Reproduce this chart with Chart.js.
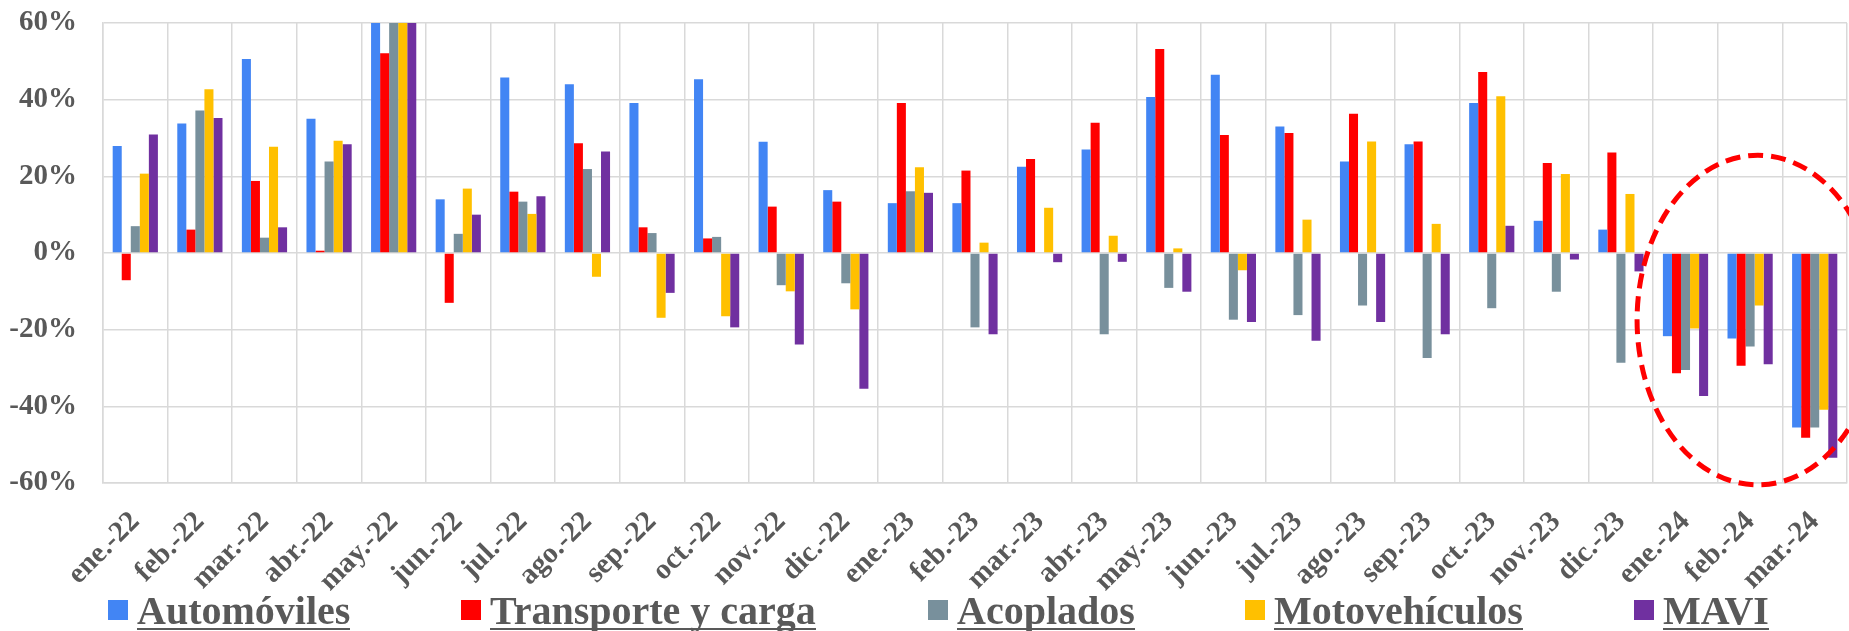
<!DOCTYPE html>
<html>
<head>
<meta charset="utf-8">
<script src="https://cdn.jsdelivr.net/npm/chart.js@4.4.1/dist/chart.umd.min.js"></script>
<style>
  html, body { margin: 0; padding: 0; background: #fff; }
  #wrap { position: relative; width: 1849px; height: 631px; overflow: hidden; }
  #chart { display: block; }
  #legend .item { position: absolute; top: 0; height: 631px; white-space: nowrap;
    font: bold 40px "Liberation Serif", "Times New Roman", serif; color: #595959; }
  #legend .box { position: absolute; top: 600px; left: 0; width: 20px; height: 20px; }
  #legend .txt { position: absolute; left: 29px; top: 594px; height: 34px; line-height: 34px;
    border-bottom: 2.5px solid #595959; }
</style>
</head>
<body>
<div id="wrap">
  <canvas id="chart" width="1849" height="631"></canvas>
  <div id="legend"></div>
</div>
<script>
// categories and values (% interannual variation)
const months = ["ene.-22", "feb.-22", "mar.-22", "abr.-22", "may.-22", "jun.-22", "jul.-22", "ago.-22", "sep.-22",
  "oct.-22", "nov.-22", "dic.-22", "ene.-23", "feb.-23", "mar.-23", "abr.-23", "may.-23", "jun.-23", "jul.-23",
  "ago.-23", "sep.-23", "oct.-23", "nov.-23", "dic.-23", "ene.-24", "feb.-24", "mar.-24"];

const automoviles = [27.9, 33.8, 50.6, 35.0, 75.0, 14.0, 45.8, 44.0, 39.1, 45.3, 29.0, 16.4, 13.0, 13.0, 22.5, 27.0,
  40.7, 46.5, 33.0, 23.9, 28.4, 39.1, 8.4, 6.1, -21.7, -22.3, -45.5];
const transporte = [-7.1, 6.1, 18.8, 0.6, 52.1, -13.0, 16.0, 28.6, 6.7, 3.8, 12.1, 13.4, 39.1, 21.5, 24.5, 34.0,
  53.2, 30.8, 31.3, 36.3, 29.1, 47.2, 23.5, 26.2, -31.4, -29.4, -48.2];
const acoplados = [7.0, 37.2, 4.0, 23.9, 70.0, 5.0, 13.4, 21.9, 5.2, 4.2, -8.4, -7.9, 16.1, -19.4, 0, -21.2,
  -9.1, -17.4, -16.2, -13.7, -27.4, -14.4, -10.1, -28.6, -30.5, -24.4, -45.5];
const motovehiculos = [20.7, 42.7, 27.7, 29.3, 68.0, 16.8, 10.2, -6.2, -16.9, -16.5, -10.0, -14.7, 22.4, 2.7, 11.8, 4.5,
  1.2, -4.5, 8.7, 29.1, 7.6, 40.9, 20.6, 15.4, -19.7, -13.7, -40.9];
const mavi = [30.9, 35.2, 6.7, 28.4, 72.0, 10.0, 14.8, 26.5, -10.4, -19.4, -23.9, -35.4, 15.7, -21.2, -2.4, -2.3,
  -10.1, -18.0, -22.9, -18.0, -21.2, 7.1, -1.7, -4.8, -37.3, -29.0, -53.4];

const yTicks = [-60, -40, -20, 0, 20, 40, 60];

const series = [
  { label: "Automóviles", data: automoviles, color: "#4285F4", legendX: 108 },
  { label: "Transporte y carga", data: transporte, color: "#FF0000", legendX: 461 },
  { label: "Acoplados", data: acoplados, color: "#78909C", legendX: 928 },
  { label: "Motovehículos", data: motovehiculos, color: "#FFC000", legendX: 1245 },
  { label: "MAVI", data: mavi, color: "#7030A0", legendX: 1634 }
];

const textGray = "#595959";
const gridGray = "#d9d9d9";
const serif = "'Liberation Serif', 'Times New Roman', serif";

// dashed red ellipse around the last three months
const ellipsePlugin = {
  id: "ellipse",
  afterDatasetsDraw(chart) {
    const x = chart.scales.x, y = chart.scales.y;
    const step = x.getPixelForValue(1) - x.getPixelForValue(0);
    const cx = x.getPixelForValue(25) + 0.12 * step;
    const cy = y.getPixelForValue(-17.5);
    const rx = 1.87 * step;
    const ry = y.getPixelForValue(-60.5) - cy;
    const ctx = chart.ctx;
    ctx.save();
    ctx.strokeStyle = "#FF0000";
    ctx.lineWidth = 5;
    ctx.setLineDash([15, 8]);
    ctx.beginPath();
    ctx.ellipse(cx, cy, rx, ry, 0, 0, Math.PI * 2);
    ctx.stroke();
    ctx.restore();
  }
};

new Chart(document.getElementById("chart"), {
  type: "bar",
  data: {
    labels: months,
    datasets: series.map(s => ({
      label: s.label,
      data: s.data,
      backgroundColor: s.color,
      borderWidth: 0,
      categoryPercentage: 0.7,
      barPercentage: 1.0
    }))
  },
  options: {
    responsive: false,
    animation: false,
    devicePixelRatio: 1,
    layout: { padding: { top: 23, right: 2, left: 0, bottom: 0 } },
    plugins: {
      legend: { display: false },
      tooltip: { enabled: false }
    },
    scales: {
      x: {
        grid: { color: gridGray, lineWidth: 1.5, drawTicks: false, offset: true },
        border: { color: gridGray, width: 1.5 },
        ticks: {
          autoSkip: false, maxRotation: 45, minRotation: 45, padding: 22,
          color: textGray, font: { family: serif, size: 29, weight: "bold" }
        },
        afterFit(scale) {
          scale.height = 631 - 483;
          scale.paddingLeft = 0;
          scale.paddingRight = 0;
        }
      },
      y: {
        min: -60, max: 60,
        afterBuildTicks(scale) { scale.ticks = yTicks.map(v => ({ value: v })); },
        grid: { color: gridGray, lineWidth: 1.5, drawTicks: false },
        border: { color: gridGray, width: 1.5 },
        ticks: {
          padding: 26, color: textGray,
          font: { family: serif, size: 29, weight: "bold" },
          callback: v => v + "%"
        },
        afterFit(scale) {
          scale.width = 103;
          scale.paddingTop = 0;
          scale.paddingBottom = 0;
        }
      }
    }
  },
  plugins: [ellipsePlugin]
});

// legend with underlined labels
const legend = document.getElementById("legend");
series.forEach(s => {
  const item = document.createElement("div");
  item.className = "item";
  item.style.left = s.legendX + "px";
  item.innerHTML = '<span class="box" style="background:' + s.color + '"></span><span class="txt">' + s.label + "</span>";
  legend.appendChild(item);
});
</script>
</body>
</html>
